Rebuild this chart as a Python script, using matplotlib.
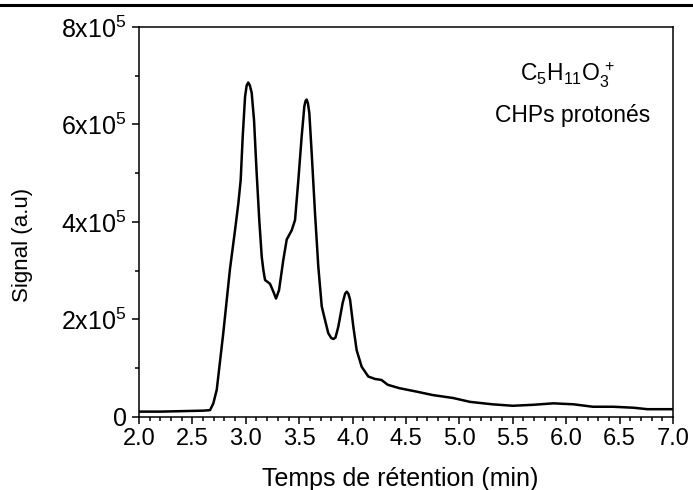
import matplotlib
matplotlib.use('Agg')
import matplotlib.pyplot as plt
from matplotlib.lines import Line2D
from matplotlib.ticker import MultipleLocator, FixedLocator, FixedFormatter, FormatStrFormatter

plt.rcParams['font.family'] = ['Liberation Sans', 'DejaVu Sans']
plt.rcParams['mathtext.fontset'] = 'custom'
plt.rcParams['mathtext.rm'] = 'Liberation Sans'
plt.rcParams['mathtext.it'] = 'Liberation Sans:italic'

### Data ###

time_min = [2.0, 2.2, 2.4, 2.6, 2.665, 2.696, 2.728, 2.789, 2.852, 2.899,
            2.93, 2.952, 2.971, 2.993, 3.008, 3.023, 3.038, 3.055, 3.077, 3.10,
            3.126, 3.149, 3.164, 3.18, 3.227, 3.258, 3.283, 3.311, 3.351, 3.383,
            3.43, 3.461, 3.492, 3.523, 3.548, 3.559, 3.57, 3.582, 3.595, 3.617,
            3.648, 3.679, 3.711, 3.726, 3.772, 3.80, 3.82, 3.84, 3.866, 3.907,
            3.93, 3.945, 3.96, 3.976, 4.007, 4.038, 4.085, 4.147, 4.21, 4.27,
            4.33, 4.44, 4.6, 4.75, 4.94, 5.1, 5.31, 5.5, 5.69, 5.88,
            6.07, 6.25, 6.44, 6.63, 6.76, 7.0]
signal_e5 = [0.11, 0.11, 0.12, 0.13, 0.14, 0.28, 0.56, 1.72, 3.04, 3.83,
             4.38, 4.86, 5.75, 6.57, 6.80, 6.86, 6.80, 6.65, 6.09, 5.07,
             4.04, 3.29, 3.02, 2.81, 2.73, 2.57, 2.43, 2.60, 3.22, 3.64,
             3.83, 4.04, 4.86, 5.75, 6.37, 6.48, 6.51, 6.43, 6.23, 5.41,
             4.18, 3.08, 2.27, 2.13, 1.72, 1.62, 1.60, 1.63, 1.85, 2.34,
             2.53, 2.57, 2.53, 2.41, 1.85, 1.37, 1.03, 0.83, 0.78, 0.76,
             0.66, 0.59, 0.52, 0.45, 0.39, 0.31, 0.26, 0.23, 0.25, 0.28,
             0.26, 0.21, 0.21, 0.19, 0.16, 0.16]

y_tick_vals = [0, 2e5, 4e5, 6e5, 8e5]
y_tick_labels = ['0', r'2x10$^\mathregular{5}$', r'4x10$^\mathregular{5}$',
                 r'6x10$^\mathregular{5}$', r'8x10$^\mathregular{5}$']

signal = [v * 1e5 for v in signal_e5]

fig = plt.figure(figsize=(6.93, 4.9), dpi=100)
ax = fig.add_axes([0.2006, 0.149, 0.7705, 0.796])

ax.plot(time_min, signal, color='black', lw=1.8)

ax.set_xlim(2.0, 7.0)
ax.set_ylim(0, 8e5)
ax.xaxis.set_major_locator(MultipleLocator(0.5))
ax.xaxis.set_minor_locator(MultipleLocator(0.1))
ax.xaxis.set_major_formatter(FormatStrFormatter('%.1f'))
ax.yaxis.set_major_locator(FixedLocator(y_tick_vals))
ax.yaxis.set_major_formatter(FixedFormatter(y_tick_labels))
ax.yaxis.set_minor_locator(MultipleLocator(1e5))

ax.tick_params(which='both', direction='out', top=False, right=False, width=1.1)
ax.tick_params(which='major', length=5)
ax.tick_params(which='minor', length=3)
ax.tick_params(axis='x', which='major', labelsize=17, pad=3)
ax.tick_params(axis='y', which='major', labelsize=18, pad=4)
for s in ax.spines.values():
    s.set_linewidth(1.1)

ax.set_xlabel('Temps de rétention (min)', fontsize=18)
ax.xaxis.set_label_coords(0.489, -0.128)
ax.set_ylabel('Signal (a.u)', fontsize=16)
ax.yaxis.set_label_coords(-0.1985, 0.44)

ax.text(6.01, 7.01e5, r'$\mathregular{C_5H_{11}O_3^{\,+}}$', fontsize=16.5,
        ha='center', va='center')
ax.text(6.06, 6.19e5, 'CHPs protonés', fontsize=16.5, ha='center', va='center')

# rule across the top of the figure
fig.add_artist(Line2D([0, 1], [0.99, 0.99], transform=fig.transFigure,
                      color='black', lw=2.2))

fig.savefig('out.png', dpi=100)
